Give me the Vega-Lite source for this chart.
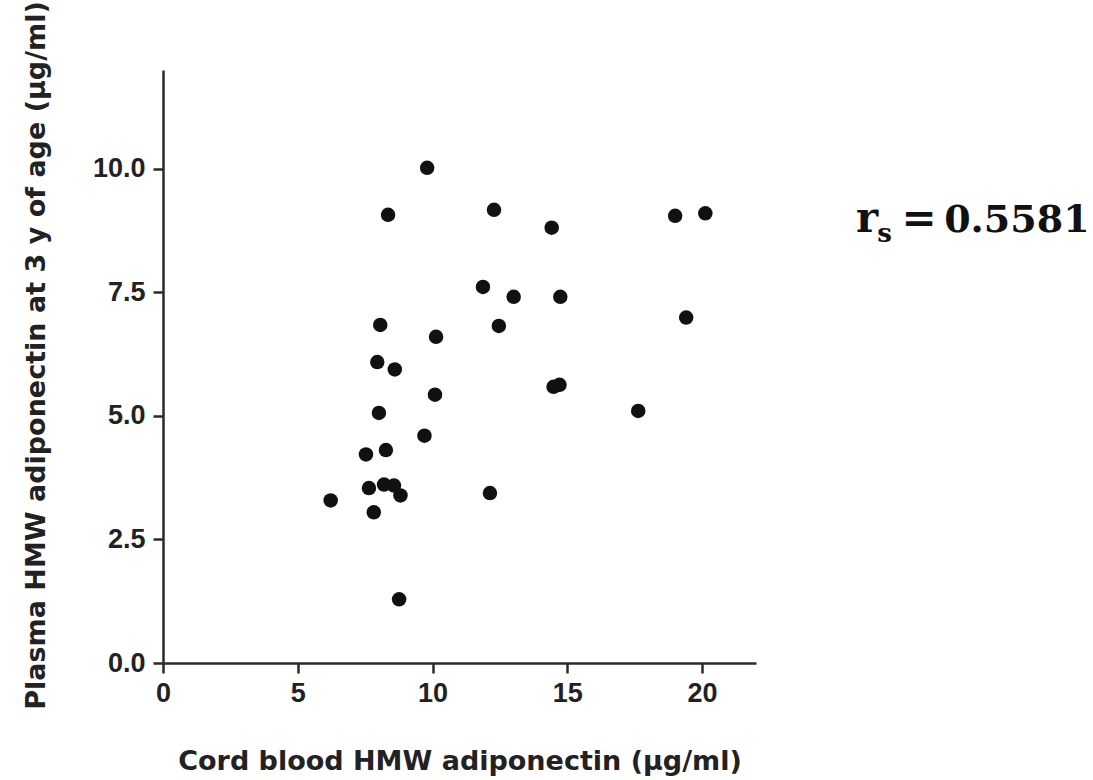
{
  "$schema": "https://vega.github.io/schema/vega-lite/v6.json",
  "autosize": "none",
  "width": 593,
  "height": 593,
  "padding": {"left": 163, "top": 70, "right": 337, "bottom": 117},
  "background": "white",
  "config": {
    "view": {"stroke": null},
    "axis": {
      "grid": false,
      "labelFlush": false,
      "domainColor": "#2a2a2a",
      "domainWidth": 2.5,
      "tickColor": "#2a2a2a",
      "tickWidth": 2.5,
      "tickSize": 10,
      "labelFont": "Liberation Sans",
      "labelFontSize": 27,
      "labelFontWeight": "bold",
      "labelColor": "#222222",
      "titleFont": "DejaVu Sans",
      "titleFontSize": 27,
      "titleFontWeight": "bold",
      "titleColor": "#222222"
    }
  },
  "layer": [
    {
      "data": {
        "values": [
          {"cord": 9.80, "plasma": 10.02},
          {"cord": 8.35, "plasma": 9.07},
          {"cord": 12.28, "plasma": 9.17},
          {"cord": 14.42, "plasma": 8.81},
          {"cord": 19.00, "plasma": 9.05},
          {"cord": 20.12, "plasma": 9.10},
          {"cord": 11.87, "plasma": 7.61},
          {"cord": 13.01, "plasma": 7.41},
          {"cord": 14.74, "plasma": 7.41},
          {"cord": 19.41, "plasma": 6.99},
          {"cord": 8.06, "plasma": 6.84},
          {"cord": 12.46, "plasma": 6.82},
          {"cord": 10.13, "plasma": 6.60},
          {"cord": 7.95, "plasma": 6.09},
          {"cord": 8.60, "plasma": 5.94},
          {"cord": 14.49, "plasma": 5.59},
          {"cord": 14.71, "plasma": 5.63},
          {"cord": 17.63, "plasma": 5.10},
          {"cord": 10.09, "plasma": 5.43},
          {"cord": 8.01, "plasma": 5.06},
          {"cord": 9.70, "plasma": 4.60},
          {"cord": 7.53, "plasma": 4.22},
          {"cord": 8.27, "plasma": 4.31},
          {"cord": 7.64, "plasma": 3.54},
          {"cord": 8.20, "plasma": 3.61},
          {"cord": 8.57, "plasma": 3.59},
          {"cord": 8.81, "plasma": 3.39},
          {"cord": 6.22, "plasma": 3.29},
          {"cord": 7.82, "plasma": 3.05},
          {"cord": 12.13, "plasma": 3.44},
          {"cord": 8.76, "plasma": 1.29}
        ]
      },
      "mark": {"type": "point", "filled": true, "shape": "circle", "size": 210, "color": "#111111", "opacity": 1},
      "encoding": {
        "x": {
          "field": "cord", "type": "quantitative",
          "scale": {"domain": [0, 22], "nice": false, "zero": false},
          "axis": {"values": [0, 5, 10, 15, 20], "labelPadding": 7, "titlePadding": 42, "title": "Cord blood HMW adiponectin (µg/ml)"}
        },
        "y": {
          "field": "plasma", "type": "quantitative",
          "scale": {"domain": [0, 12], "nice": false, "zero": false},
          "axis": {"values": [0, 2.5, 5, 7.5, 10], "format": ".1f", "labelPadding": 8, "titlePadding": 42, "titleY": 285, "title": "Plasma HMW adiponectin at 3 y of age (µg/ml)"}
        }
      }
    },
    {
      "data": {"values": [{"label": "r"}]},
      "mark": {"type": "text", "font": "DejaVu Serif", "fontWeight": "bold", "fontSize": 42, "align": "left", "baseline": "alphabetic", "color": "#111111"},
      "encoding": {"text": {"field": "label"}, "x": {"datum": 25.71, "type": "quantitative"}, "y": {"datum": 8.72, "type": "quantitative"}}
    },
    {
      "data": {"values": [{"label": "s"}]},
      "mark": {"type": "text", "font": "DejaVu Serif", "fontWeight": "bold", "fontSize": 26, "align": "left", "baseline": "alphabetic", "color": "#111111"},
      "encoding": {"text": {"field": "label"}, "x": {"datum": 26.5, "type": "quantitative"}, "y": {"datum": 8.52, "type": "quantitative"}}
    },
    {
      "data": {"values": [{"label": "="}]},
      "mark": {"type": "text", "font": "DejaVu Serif", "fontWeight": "bold", "fontSize": 42, "align": "left", "baseline": "alphabetic", "color": "#111111"},
      "encoding": {"text": {"field": "label"}, "x": {"datum": 27.4, "type": "quantitative"}, "y": {"datum": 8.72, "type": "quantitative"}}
    },
    {
      "data": {"values": [{"label": "0.5581"}]},
      "mark": {"type": "text", "font": "DejaVu Serif", "fontWeight": "bold", "fontSize": 38, "align": "left", "baseline": "alphabetic", "color": "#111111"},
      "encoding": {"text": {"field": "label"}, "x": {"datum": 28.98, "type": "quantitative"}, "y": {"datum": 8.72, "type": "quantitative"}}
    }
  ]
}
